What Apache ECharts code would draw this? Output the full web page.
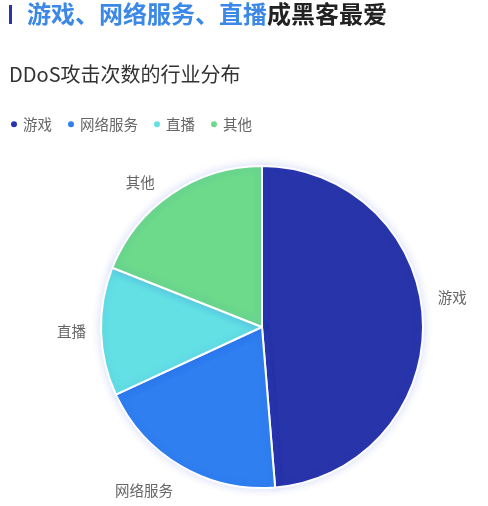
<!DOCTYPE html>
<html>
<head>
<meta charset="utf-8">
<script src="https://cdn.jsdelivr.net/npm/echarts@6/dist/echarts.min.js"></script>
<style>
  html, body { margin: 0; padding: 0; background: #fff; }
  #container { width: 488px; height: 506px; }
</style>
</head>
<body>
<div id="container"></div>
<script>
var categories = ['游戏', '网络服务', '直播', '其他'];
var values = [48.7, 19.4, 12.9, 19.0];
var colors = ['#2834a9', '#2f7ff0', '#63e0e4', '#6cd98b'];

var font = '"Noto Sans CJK SC", "Noto Sans", sans-serif';

// label line lengths per slice (line itself is hidden, only moves the text)
var labelLen = [6, 6, 6, 14];
var labelLen2 = [4, 0, 4, 4];

var data = categories.map(function (name, i) {
    var item = {
        name: name,
        value: values[i],
        labelLine: {length: labelLen[i], length2: labelLen2[i]}
    };
    if (i === 0) {
        // lift the first label a little, as in the original
        item.label = {
            formatter: '{b}\n{sp| }',
            rich: {sp: {lineHeight: 46, fontSize: 1}}
        };
    } else if (i === 1) {
        // and drop the second one a bit
        item.label = {
            formatter: '{sp| }\n{b}',
            rich: {sp: {lineHeight: 38, fontSize: 1}}
        };
    }
    return item;
});

var dom = document.getElementById("container");
var myChart = echarts.init(dom);

var option = {
    backgroundColor: '#fff',
    color: colors,
    textStyle: {fontFamily: font},
    title: [
        {
            text: '{hl|游戏、网络服务、直播}{dk|成黑客最爱}',
            left: 22,
            top: -3,
            textStyle: {
                rich: {
                    hl: {color: '#3b88e6', fontSize: 24, fontWeight: 'bold', fontFamily: font},
                    dk: {color: '#222', fontSize: 24, fontWeight: 'bold', fontFamily: font}
                }
            }
        },
        {
            text: 'DDoS攻击次数的行业分布',
            left: 4,
            top: 59,
            textStyle: {color: '#333', fontSize: 20, fontWeight: 'normal', fontFamily: font}
        }
    ],
    graphic: [{
        type: 'rect',
        shape: {x: 9, y: 5, width: 3, height: 19},
        style: {fill: '#2834a9'}
    }],
    legend: {
        left: 4,
        top: 112,
        icon: 'circle',
        itemWidth: 8,
        itemHeight: 8,
        itemGap: 14,
        textStyle: {color: '#666', fontSize: 14.5, fontFamily: font},
        data: categories
    },
    series: [{
        name: 'DDoS攻击次数的行业分布',
        type: 'pie',
        center: [262, 327],
        radius: [0, 161],
        startAngle: 90,
        clockwise: true,
        label: {
            show: true,
            position: 'outside',
            color: '#666',
            fontSize: 14.5,
            fontFamily: font
        },
        labelLine: {show: false},
        itemStyle: {
            borderColor: '#fff',
            borderWidth: 2,
            shadowBlur: 8,
            shadowColor: 'rgba(40, 70, 220, 0.18)'
        },
        emphasis: {scale: false},
        data: data
    }]
};
myChart.setOption(option, true);
</script>
</body>
</html>
